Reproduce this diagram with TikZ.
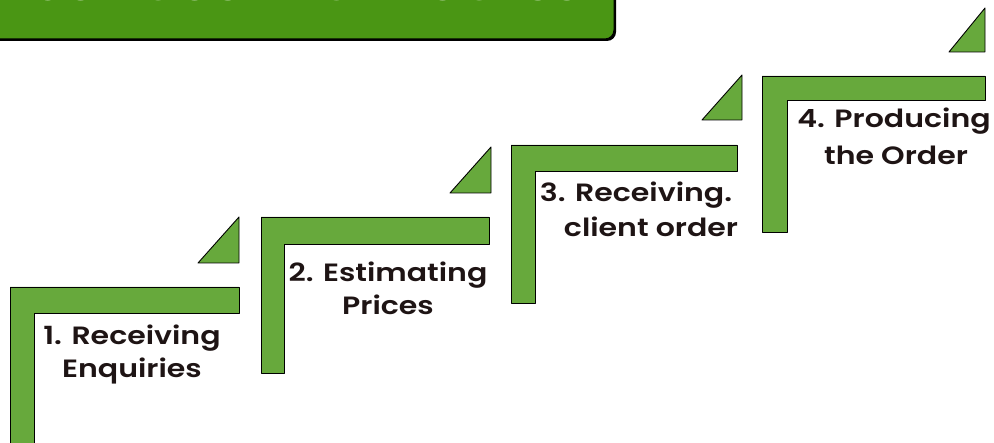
\documentclass[tikz,border=0pt]{standalone}
\usepackage{fontspec}
\setmainfont{Poppins}
\newfontfamily\stepfont{Poppins SemiBold}[FakeStretch=1.2]
\newfontfamily\headfont{Poppins}[FakeStretch=1.12]
\definecolor{stepgreen}{HTML}{67A93C}
\definecolor{titlegreen}{HTML}{4A9614}
\definecolor{ink}{HTML}{1E1414}
\begin{document}
\begin{tikzpicture}[x=1pt,y=-1pt,
  stair/.style={fill=stepgreen, draw=black, line width=0.9pt, line join=round},
  wedge/.style={fill=stepgreen, draw=black, line width=0.9pt, line join=round},
  label/.style={anchor=base, inner sep=0pt, text=ink, font=\stepfont\fontsize{25}{28}\selectfont},
  heading/.style={anchor=base, inner sep=0pt, text=white, font=\headfont\fontsize{42}{46}\selectfont\bfseries}]
\useasboundingbox (0,0) rectangle (994,443);

% title banner, running off the top edge
\fill[black, rounded corners=9pt] (-20,-40) rectangle (616,41);
\draw[fill=titlegreen, draw=black, line width=1pt, rounded corners=9pt] (-20,-40) rectangle (614,39);
\node[heading] (title) at (308,1) {JOB COSTING PROCESS};

% step 1
\draw[stair] (10,450) -- (10,287) -- (239,287) -- (239,313) -- (34,313) -- (34,450) -- cycle;
\draw[wedge] (198,263) -- (239,217) -- (239,263) -- cycle;
\node[label] (s1a) at (132,345) {1. Receiving};
\node[label] (s1b) at (132,378) {Enquiries};

% step 2
\draw[stair] (261,373) -- (261,217) -- (489,217) -- (489,244) -- (284,244) -- (284,373) -- cycle;
\draw[wedge] (450,193) -- (491,147) -- (491,193) -- cycle;
\node[label] (s2a) at (388,282) {2. Estimating};
\node[label] (s2b) at (388,315) {Prices};

% step 3
\draw[stair] (511,303) -- (511,145) -- (737,145) -- (737,171) -- (535,171) -- (535,303) -- cycle;
\draw[wedge] (702,120) -- (742,75) -- (742,120) -- cycle;
\node[label] (s3a) at (636,202) {3. Receiving.};
\node[label] (s3b) at (651,237) {client order};

% step 4
\draw[stair] (762,232) -- (762,76) -- (985,76) -- (985,100) -- (787,100) -- (787,232) -- cycle;
\draw[wedge] (949,52) -- (985,8) -- (985,52) -- cycle;
\node[label] (s4a) at (894,128) {4. Producing};
\node[label] (s4b) at (896,165) {the Order};
\end{tikzpicture}
\end{document}
